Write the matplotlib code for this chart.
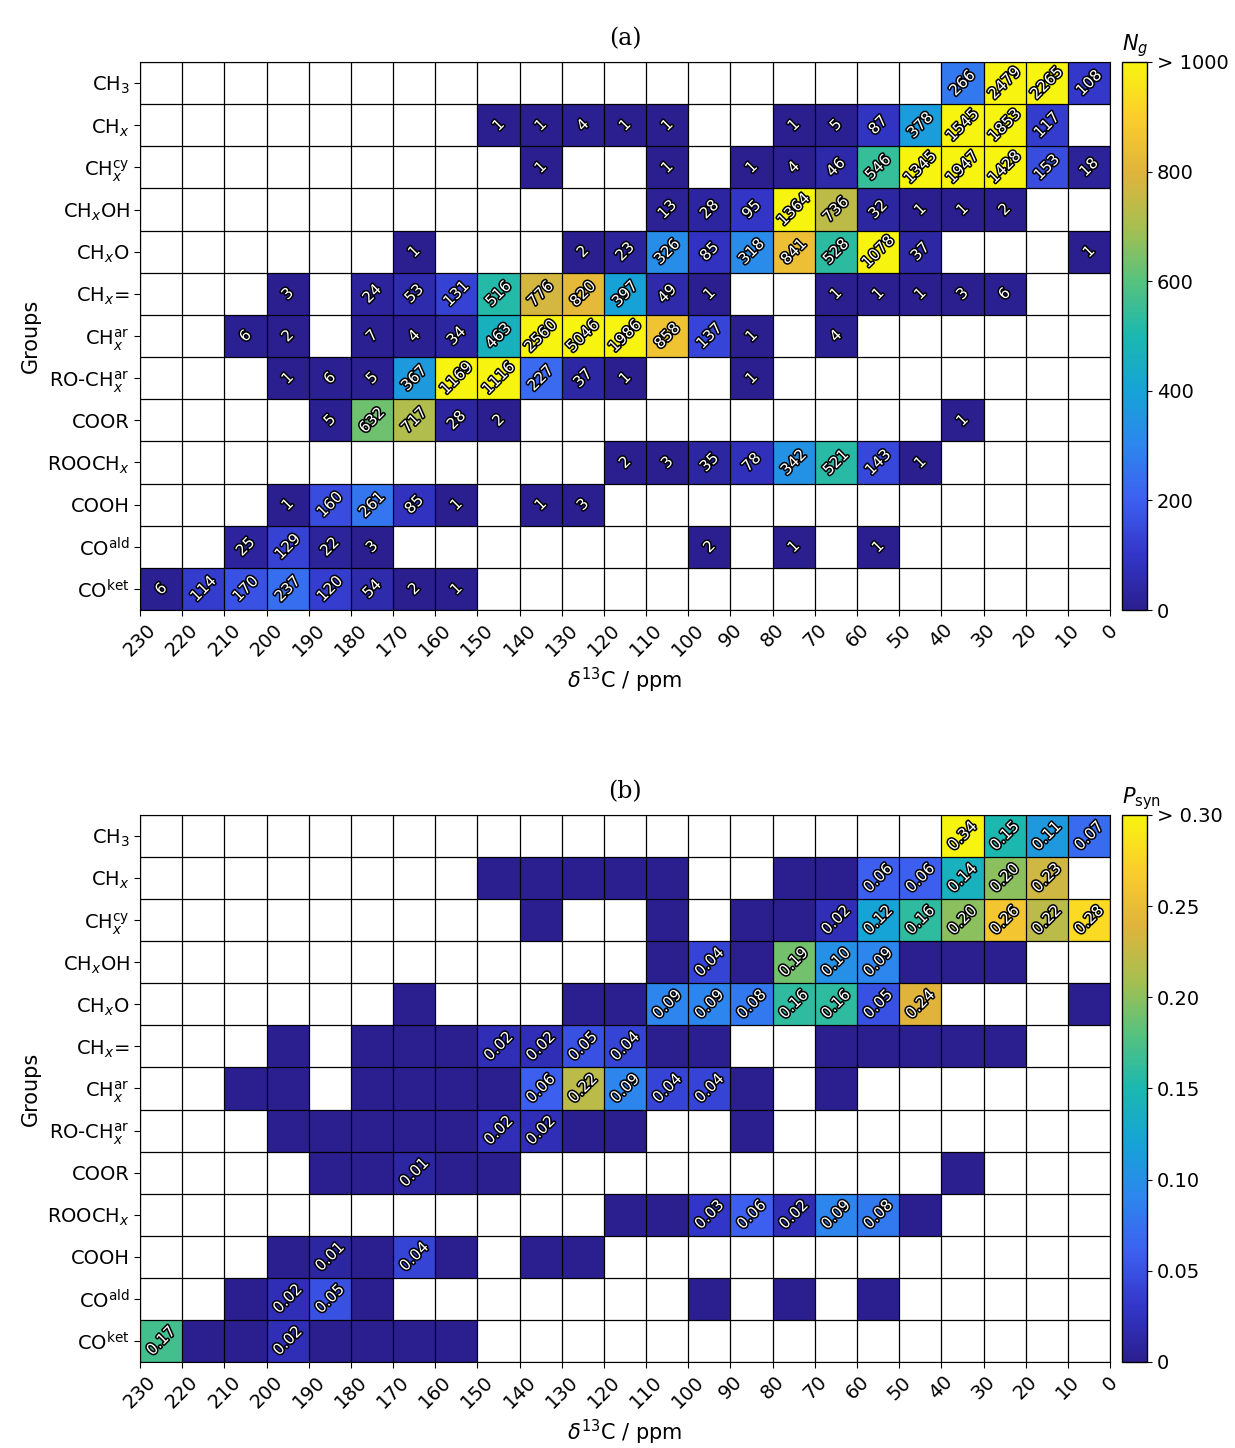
import matplotlib
matplotlib.use("Agg")
import numpy as np
import matplotlib.pyplot as plt
import matplotlib.patheffects as pe
from matplotlib.colors import LinearSegmentedColormap

plt.rcParams["font.family"] = ["DejaVu Sans"]
plt.rcParams["mathtext.fontset"] = "dejavusans"

groups = ["CH$_3$", "CH$_x$", "CH$_x^{\\rm cy}$", "CH$_x$OH", "CH$_x$O", "CH$_x$=",
          "CH$_x^{\\rm ar}$", "RO-CH$_x^{\\rm ar}$", "COOR", "ROOCH$_x$", "COOH",
          "CO$^{\\rm ald}$", "CO$^{\\rm ket}$"]
shift_edges = list(range(230, -1, -10))  # 24 edges -> 23 bins

# counts per group: {bin index (0 = 230-220 ppm): N}
counts = [
    {19: 266, 20: 2479, 21: 2265, 22: 108},
    {8: 1, 9: 1, 10: 4, 11: 1, 12: 1, 15: 1, 16: 5, 17: 87, 18: 378, 19: 1545, 20: 1853, 21: 117},
    {9: 1, 12: 1, 14: 1, 15: 4, 16: 46, 17: 546, 18: 1345, 19: 1947, 20: 1428, 21: 153, 22: 18},
    {12: 13, 13: 28, 14: 95, 15: 1364, 16: 736, 17: 32, 18: 1, 19: 1, 20: 2},
    {6: 1, 10: 2, 11: 23, 12: 326, 13: 85, 14: 318, 15: 841, 16: 528, 17: 1078, 18: 37, 22: 1},
    {3: 3, 5: 24, 6: 53, 7: 131, 8: 516, 9: 776, 10: 820, 11: 397, 12: 49, 13: 1,
     16: 1, 17: 1, 18: 1, 19: 3, 20: 6},
    {2: 6, 3: 2, 5: 7, 6: 4, 7: 34, 8: 463, 9: 2560, 10: 5046, 11: 1986, 12: 858, 13: 137, 14: 1, 16: 4},
    {3: 1, 4: 6, 5: 5, 6: 367, 7: 1169, 8: 1116, 9: 227, 10: 37, 11: 1, 14: 1},
    {4: 5, 5: 632, 6: 717, 7: 28, 8: 2, 19: 1},
    {11: 2, 12: 3, 13: 35, 14: 78, 15: 342, 16: 521, 17: 143, 18: 1},
    {3: 1, 4: 160, 5: 261, 6: 85, 7: 1, 9: 1, 10: 3},
    {2: 25, 3: 129, 4: 22, 5: 3, 13: 2, 15: 1, 17: 1},
    {0: 6, 1: 114, 2: 170, 3: 237, 4: 120, 5: 54, 6: 2, 7: 1},
]

# synthesis probability (only non-zero values listed)
psyn = [
    {19: 0.34, 20: 0.15, 21: 0.11, 22: 0.07},
    {17: 0.06, 18: 0.06, 19: 0.14, 20: 0.20, 21: 0.23},
    {16: 0.02, 17: 0.12, 18: 0.16, 19: 0.20, 20: 0.26, 21: 0.22, 22: 0.28},
    {13: 0.04, 15: 0.19, 16: 0.10, 17: 0.09},
    {12: 0.09, 13: 0.09, 14: 0.08, 15: 0.16, 16: 0.16, 17: 0.05, 18: 0.24},
    {8: 0.02, 9: 0.02, 10: 0.05, 11: 0.04},
    {9: 0.06, 10: 0.22, 11: 0.09, 12: 0.04, 13: 0.04},
    {8: 0.02, 9: 0.02},
    {6: 0.01},
    {13: 0.03, 14: 0.06, 15: 0.02, 16: 0.09, 17: 0.08},
    {4: 0.01, 6: 0.04},
    {3: 0.02, 4: 0.05},
    {0: 0.17, 3: 0.02},
]

parula = LinearSegmentedColormap.from_list("parula", [
    "#2b1f8f", "#3236c9", "#3d5ff0", "#2d86ee", "#16a3d6", "#1bb8b0",
    "#56c27e", "#a7bf4f", "#e0b43c", "#fbcd2c", "#f7f40f"])

nb, ng = len(shift_edges) - 1, len(groups)
N = np.full((ng, nb), np.nan)
P = np.full((ng, nb), np.nan)
for r in range(ng):
    for c, v in counts[r].items():
        N[r, c] = v
        P[r, c] = psyn[r].get(c, 0.0)

fig = plt.figure(figsize=(12.35, 14.48), dpi=100)
stroke = [pe.withStroke(linewidth=2.2, foreground="black")]


def panel(rect, crect, data, vmax, fmt, title, cblabel, ticks, toplabel):
    ax = fig.add_axes(rect)
    cax = fig.add_axes(crect)
    x = np.array(shift_edges)
    y = np.arange(ng + 1)
    m = ax.pcolormesh(x, y, np.ma.masked_invalid(np.minimum(data, vmax)),
                      cmap=parula, vmin=0, vmax=vmax)
    for xe in x:
        ax.axvline(xe, color="black", lw=0.9)
    for ye in y:
        ax.axhline(ye, color="black", lw=0.9)
    for r in range(ng):
        for c in range(nb):
            v = data[r, c]
            if np.isnan(v) or v <= 0:
                continue
            ax.text((x[c] + x[c + 1]) / 2, r + 0.5, fmt(v), rotation=45,
                    ha="center", va="center", color="white", fontsize=11,
                    path_effects=stroke)
    ax.set_xlim(230, 0)
    ax.set_ylim(ng, 0)
    ax.set_xticks(x)
    ax.set_xticklabels([str(v) for v in x], rotation=45, fontsize=14)
    ax.set_yticks(np.arange(ng) + 0.5)
    ax.set_yticklabels(groups, fontsize=14)
    ax.tick_params(length=4)
    ax.set_xlabel("$\\delta^{13}$C / ppm", fontsize=15)
    ax.set_ylabel("Groups", fontsize=15)
    ax.set_title(title, fontsize=17, family="DejaVu Serif", pad=12)
    cb = fig.colorbar(m, cax=cax, ticks=ticks)
    labs = [f"{t:g}" if not isinstance(t, float) else f"{t:.2f}" for t in ticks]
    labs[0] = "0"
    labs[-1] = toplabel
    cb.ax.set_yticklabels(labs, fontsize=14)
    cb.outline.set_linewidth(1)
    cax.set_title(cblabel, fontsize=15, loc="left", pad=8)


panel([0.1134, 0.5787, 0.7854, 0.3785], [0.9085, 0.5787, 0.0202, 0.3785],
      N, 1000, lambda v: f"{int(v)}", "(a)", "$N_g$",
      [0, 200, 400, 600, 800, 1000], "> 1000")
panel([0.1134, 0.0594, 0.7854, 0.3778], [0.9085, 0.0594, 0.0202, 0.3778],
      P, 0.30, lambda v: f"{v:.2f}", "(b)", "$P_{\\rm syn}$",
      [0.0, 0.05, 0.10, 0.15, 0.20, 0.25, 0.30], "> 0.30")

fig.savefig("out.png", dpi=100)
